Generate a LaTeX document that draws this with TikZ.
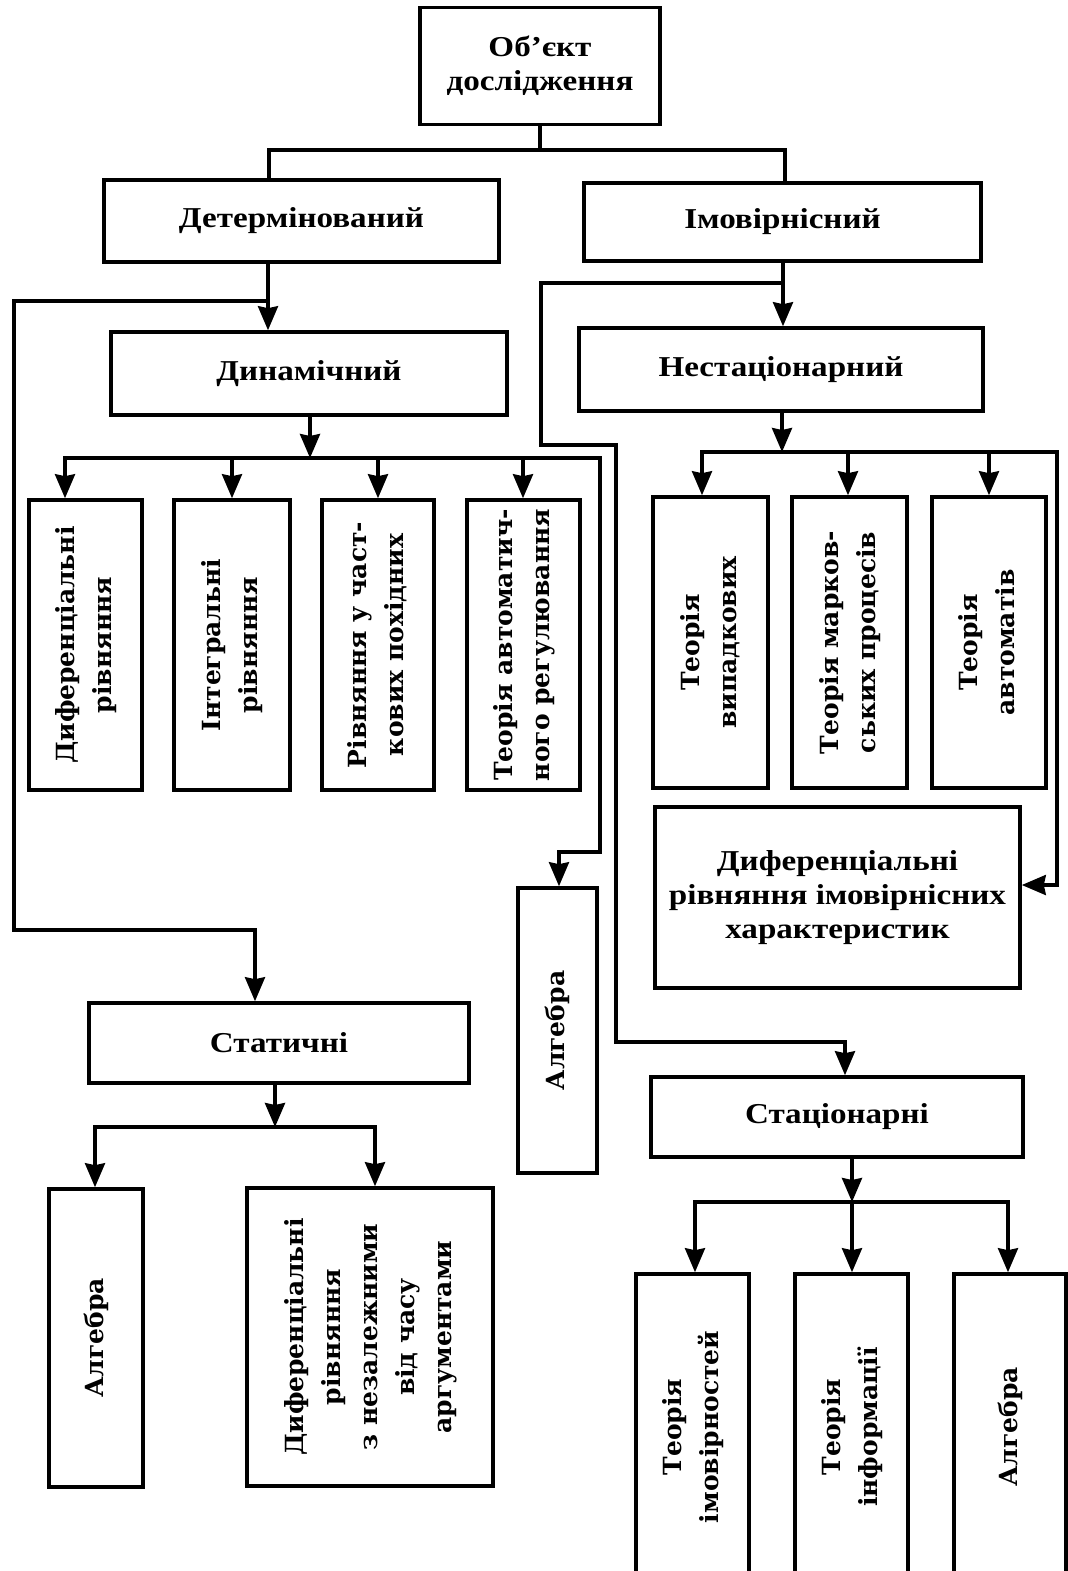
\documentclass[tikz,border=0pt]{standalone}
\usepackage{fontspec}
\usepackage{graphicx}
\usetikzlibrary{arrows.meta}
\newfontfamily\hfont[FakeStretch=1.15]{Liberation Serif}
\newfontfamily\vfont{DejaVu Serif}
\newcommand{\vtext}[1]{\rotatebox{90}{\vfont\bfseries\fontsize{12.5}{18.5}\selectfont\begin{tabular}{@{}c@{}}#1\end{tabular}}}
\tikzset{
  box/.style={draw, line width=1.8pt, inner sep=0pt, align=center,
    font=\hfont\bfseries\fontsize{14.4}{17}\selectfont},
  conn/.style={line width=1.7pt, line cap=rect},
  arr/.style={conn, -{Stealth[length=12pt,width=10pt,inset=1pt]}},
}
\begin{document}
\begin{tikzpicture}[x=0.5pt,y=-0.5pt]
\useasboundingbox (0,0) rectangle (1068,1571);
\clip (0,0) rectangle (1068,1571);

% --- boxes ---
\node[box, minimum width=120pt, minimum height=58.5pt] (obj) at (540,66) {Об’єкт\\дослідження};
\node[box, minimum width=197.5pt, minimum height=41pt] (det) at (301.5,221) {Детермінований};
\node[box, minimum width=198.5pt, minimum height=39pt] (imov) at (782.5,222) {Імовірнісний};
\node[box, minimum width=198pt, minimum height=41.5pt] (dyn) at (309,373.5) {Динамічний};
\node[box, minimum width=202pt, minimum height=41.5pt] (nest) at (781,369.5) {Нестаціонарний};

\node[box, minimum width=56.5pt, minimum height=145pt] (d1) at (85.5,645) {\vtext{Диференціальні\\рівняння}};
\node[box, minimum width=58pt, minimum height=145pt] (d2) at (232,645) {\vtext{Інтегральні\\рівняння}};
\node[box, minimum width=56pt, minimum height=145pt] (d3) at (378,645) {\vtext{Рівняння у част-\\кових похідних}};
\node[box, minimum width=56.5pt, minimum height=145pt] (d4) at (523.5,645) {\vtext{Теорія автоматич-\\ного регулювання}};

\node[box, minimum width=57.5pt, minimum height=145.5pt] (n1) at (710.5,642.5) {\vtext{Теорія\\випадкових}};
\node[box, minimum width=57.5pt, minimum height=145.5pt] (n2) at (849.5,642.5) {\vtext{Теорія марков-\\ських процесів}};
\node[box, minimum width=57pt, minimum height=145.5pt] (n3) at (989,642.5) {\vtext{Теорія\\автоматів}};

\node[box, minimum width=182.5pt, minimum height=90.5pt] (di) at (837.5,897.5) {Диференціальні\\рівняння імовірнісних\\характеристик};
\node[box, minimum width=39.5pt, minimum height=142.5pt] (alg) at (557.5,1030.5) {\vtext{Алгебра}};

\node[box, minimum width=190pt, minimum height=40pt] (stat) at (279,1043) {Статичні};
\node[box, minimum width=186pt, minimum height=40pt] (stac) at (837,1117) {Стаціонарні};

\node[box, minimum width=47pt, minimum height=149pt] (a1) at (96,1338) {\vtext{Алгебра}};
\node[box, minimum width=123pt, minimum height=149pt] (dn) at (370,1337) {\vtext{Диференціальні\\рівняння\\з незалежними\\від часу\\аргументами}};

\node[box, minimum width=56.5pt, minimum height=153pt] (t1) at (692.5,1427) {\vtext{Теорія\\імовірностей}};
\node[box, minimum width=56.5pt, minimum height=153pt] (t2) at (851.5,1427) {\vtext{Теорія\\інформації}};
\node[box, minimum width=56pt, minimum height=153pt] (t3) at (1010,1427) {\vtext{Алгебра}};

% --- top split ---
\coordinate (tl) at (269,150);
\coordinate (tr) at (785,150);
\draw[conn] (obj.south) -- (obj.south |- tl);
\draw[conn] (det.north -| tl) -- (tl) -- (tr) -- (imov.north -| tr);

% --- deterministic branch ---
\coordinate (dl) at (268,301);
\coordinate (lc1) at (14,301);
\coordinate (lc2) at (14,930);
\coordinate (lc3) at (255,930);
\draw[arr] (det.south -| dl) -- (dyn.north -| dl);
\draw[arr] (dl) -- (lc1) -- (lc2) -- (lc3) -- (stat.north -| lc3);

% --- probabilistic branch ---
\coordinate (rl) at (783,283);
\coordinate (rc1) at (541,283);
\coordinate (rc2) at (541,445);
\coordinate (rc3) at (616,445);
\coordinate (rc4) at (616,1042);
\coordinate (rc5) at (845,1042);
\draw[arr] (imov.south -| rl) -- (nest.north -| rl);
\draw[arr] (rl) -- (rc1) -- (rc2) -- (rc3) -- (rc4) -- (rc5) -- (stac.north -| rc5);

% --- dynamic models ---
\coordinate (dj) at (310,458);
\coordinate (dh1) at (65,458);
\coordinate (dh2) at (232,458);
\coordinate (dh3) at (378,458);
\coordinate (dh4) at (523,458);
\coordinate (dh5) at (600,458);
\coordinate (dv1) at (600,852);
\coordinate (dv2) at (559,852);
\draw[arr] (dyn.south -| dj) -- (dj);
\draw[arr] (dh1) -- (dh5) -- (dv1) -- (dv2) -- (alg.north -| dv2);
\draw[arr] (dh1) -- (dh1 |- d1.north);
\draw[arr] (dh2) -- (dh2 |- d2.north);
\draw[arr] (dh3) -- (dh3 |- d3.north);
\draw[arr] (dh4) -- (dh4 |- d4.north);

% --- non-stationary models ---
\coordinate (nj) at (782,452);
\coordinate (nh1) at (702,452);
\coordinate (nh2) at (848,452);
\coordinate (nh3) at (989,452);
\coordinate (nh4) at (1057,452);
\coordinate (nv1) at (1057,885);
\draw[arr] (nest.south -| nj) -- (nj);
\draw[arr] (nh1) -- (nh4) -- (nv1) -- (di.east |- nv1);
\draw[arr] (nh1) -- (nh1 |- n1.north);
\draw[arr] (nh2) -- (nh2 |- n2.north);
\draw[arr] (nh3) -- (nh3 |- n3.north);

% --- static models ---
\coordinate (sj) at (275,1127);
\coordinate (sh1) at (95,1127);
\coordinate (sh2) at (375,1127);
\draw[arr] (stat.south -| sj) -- (sj);
\draw[conn] (sh1) -- (sh2);
\draw[arr] (sh1) -- (sh1 |- a1.north);
\draw[arr] (sh2) -- (sh2 |- dn.north);

% --- stationary models ---
\coordinate (cj) at (852,1202);
\coordinate (ch1) at (695,1202);
\coordinate (ch3) at (1008,1202);
\draw[arr] (stac.south -| cj) -- (cj);
\draw[conn] (ch1) -- (ch3);
\draw[arr] (ch1) -- (ch1 |- t1.north);
\draw[arr] (cj) -- (cj |- t2.north);
\draw[arr] (ch3) -- (ch3 |- t3.north);
\end{tikzpicture}
\end{document}
